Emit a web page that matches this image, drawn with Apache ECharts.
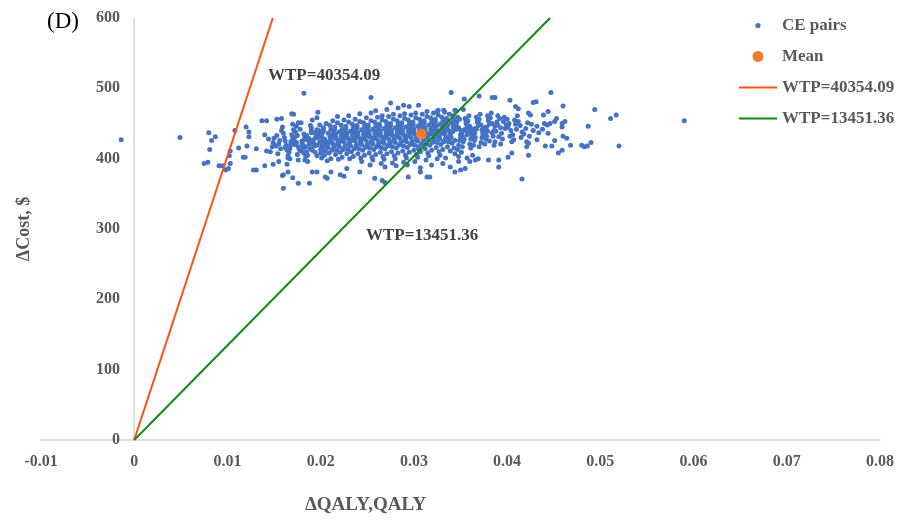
<!DOCTYPE html>
<html>
<head>
<meta charset="utf-8">
<script src="https://cdn.jsdelivr.net/npm/echarts@6/dist/echarts.min.js"></script>
<style>
html, body { margin: 0; padding: 0; background: #fff; }
#chart { width: 915px; height: 520px; }
</style>
</head>
<body>
<div id="chart"></div>
<script>
// incremental QALY (x) and cost (y)
var ceSparse = [
	[-0.0014, 427], [0.0049, 430], [0.0080, 437], [0.0083, 426], [0.0087, 431], [0.0081, 413],
	[0.0075, 393], [0.0079, 395], [0.0091, 390], [0.0095, 390], [0.0098, 384], [0.0101, 386],
	[0.0103, 393], [0.0103, 411], [0.0102, 404], [0.0108, 440], [0.0112, 415], [0.0120, 445],
	[0.0123, 438], [0.0123, 431], [0.0121, 418], [0.0117, 402], [0.0119, 402], [0.0128, 384],
	[0.0131, 384], [0.0137, 454], [0.0142, 454], [0.0140, 390], [0.0149, 392], [0.0158, 457],
	[0.0160, 358], [0.0169, 464], [0.0171, 463], [0.0160, 377], [0.0165, 381], [0.0176, 365],
	[0.0176, 451], [0.0182, 493], [0.0131, 414], [0.0153, 456], [0.0197, 466], [0.0159, 376],
	[0.0170, 373], [0.0188, 365], [0.0191, 381], [0.0196, 381], [0.0205, 374], [0.0207, 372],
	[0.0211, 381], [0.0221, 377], [0.0183, 398], [0.0167, 400], [0.0254, 487], [0.0340, 494],
	[0.0269, 366], [0.0317, 374], [0.0294, 374], [0.0258, 372], [0.0225, 375], [0.0242, 381],
	[0.0307, 381], [0.0339, 388], [0.0348, 396], [0.0228, 386], [0.0275, 479], [0.0289, 476],
	[0.0305, 476], [0.0325, 467], [0.0332, 469], [0.0344, 469], [0.0447, 494], [0.0354, 485],
	[0.0370, 489], [0.0384, 487], [0.0387, 487], [0.0403, 483], [0.0409, 474], [0.0412, 471],
	[0.0428, 480], [0.0431, 481], [0.0423, 465], [0.0425, 462], [0.0439, 462], [0.0444, 467],
	[0.0460, 475], [0.0453, 457], [0.0451, 453], [0.0459, 450], [0.0459, 445], [0.0443, 448],
	[0.0446, 450], [0.0462, 453], [0.0460, 432], [0.0464, 429], [0.0468, 419], [0.0451, 426],
	[0.0441, 418], [0.0448, 418], [0.0459, 412], [0.0455, 408], [0.0432, 427], [0.0423, 422],
	[0.0421, 417], [0.0416, 371], [0.0391, 388], [0.0391, 398], [0.0380, 398], [0.0401, 402],
	[0.0405, 408], [0.0423, 405], [0.0366, 398], [0.0369, 400], [0.0360, 396], [0.0357, 401],
	[0.0355, 386], [0.0350, 384], [0.0344, 381], [0.0494, 470], [0.0511, 457], [0.0517, 462],
	[0.0590, 454], [0.0487, 446], [0.0480, 419], [0.0483, 417], [0.0486, 418], [0.0490, 423],
	[0.0520, 418], [0.0314, 374], [0.0266, 369]
];

// dense middle of the cloud: [x, [y values at that x]]
var ceCore = [
	[0.0142, [411, 428, 434]],
	[0.0148, [417, 429, 410, 423]],
	[0.0155, [421, 414, 433, 426, 407, 440, 418, 396]],
	[0.0162, [425, 412, 436, 419, 430, 404, 445, 416, 392]],
	[0.0168, [420, 428, 409, 434, 415, 441, 401, 424, 449, 412]],
	[0.0174, [423, 417, 430, 406, 438, 413, 426, 446, 398, 420, 433]],
	[0.0181, [419, 427, 411, 435, 422, 403, 442, 415, 430, 451, 408, 425]],
	[0.0187, [426, 414, 433, 420, 405, 440, 417, 429, 447, 410, 423, 396, 437]],
	[0.0193, [421, 430, 412, 437, 425, 404, 444, 418, 432, 455, 409, 427, 441]],
	[0.0199, [424, 416, 433, 408, 440, 427, 419, 448, 401, 430, 413, 436, 422, 458]],
	[0.0204, [428, 418, 437, 411, 444, 423, 432, 405, 450, 415, 426, 440, 397, 421]],
	[0.0210, [425, 433, 416, 441, 408, 429, 420, 447, 412, 436, 400, 423, 454, 418, 431]],
	[0.0216, [430, 420, 438, 412, 445, 425, 433, 406, 451, 417, 428, 442, 399, 422, 435, 460]],
	[0.0222, [426, 435, 417, 442, 409, 430, 422, 448, 413, 438, 402, 425, 455, 419, 432]],
	[0.0228, [431, 421, 439, 413, 446, 427, 434, 407, 452, 418, 429, 443, 400, 424, 436, 461]],
	[0.0234, [427, 436, 418, 443, 410, 431, 423, 449, 414, 439, 403, 426, 456, 420, 433, 445]],
	[0.0240, [432, 422, 440, 414, 447, 428, 435, 407, 453, 419, 430, 444, 401, 425, 437, 464, 416]],
	[0.0246, [429, 438, 420, 445, 412, 433, 425, 451, 416, 441, 405, 428, 458, 422, 435, 447, 396]],
	[0.0252, [433, 423, 441, 415, 448, 429, 436, 408, 454, 420, 431, 445, 402, 426, 438, 465, 417, 391]],
	[0.0258, [430, 439, 421, 446, 413, 434, 426, 452, 417, 442, 406, 429, 459, 423, 436, 448, 398, 468]],
	[0.0264, [434, 424, 442, 416, 449, 430, 437, 409, 455, 421, 432, 446, 403, 427, 439, 461, 418, 393]],
	[0.0270, [431, 440, 422, 447, 414, 435, 427, 453, 418, 443, 407, 430, 460, 424, 437, 449, 399, 470, 388]],
	[0.0276, [435, 425, 443, 417, 450, 431, 438, 410, 456, 422, 433, 447, 404, 428, 440, 463, 419, 394]],
	[0.0282, [432, 441, 423, 448, 415, 436, 428, 454, 419, 444, 408, 431, 461, 425, 438, 450, 400, 472, 390]],
	[0.0288, [436, 426, 444, 418, 451, 432, 439, 411, 457, 423, 434, 448, 405, 429, 441, 464, 420, 395]],
	[0.0294, [433, 442, 424, 449, 416, 437, 429, 455, 420, 445, 409, 432, 462, 426, 439, 451, 401, 474, 391]],
	[0.0300, [437, 427, 445, 419, 452, 433, 440, 412, 458, 424, 435, 449, 406, 430, 442, 465, 421, 396]],
	[0.0306, [434, 443, 425, 450, 417, 438, 430, 456, 421, 446, 410, 433, 463, 427, 440, 452, 402, 387, 414]],
	[0.0312, [439, 429, 447, 421, 454, 435, 442, 414, 460, 426, 437, 451, 408, 432, 444, 467, 423, 398]],
	[0.0318, [436, 445, 427, 452, 419, 440, 432, 458, 423, 448, 412, 435, 465, 429, 442, 454, 404, 391]],
	[0.0324, [441, 431, 449, 423, 456, 437, 444, 416, 462, 428, 439, 453, 410, 434, 446, 469, 425, 400]],
	[0.0330, [437, 446, 428, 453, 420, 441, 433, 459, 424, 449, 413, 436, 466, 430, 443, 455, 405, 393]],
	[0.0336, [442, 432, 450, 424, 457, 438, 445, 417, 463, 429, 440, 454, 411, 435, 447, 426, 401]],
	[0.0342, [439, 448, 430, 455, 422, 443, 435, 461, 426, 451, 415, 438, 468, 432, 445, 407]],
	[0.0348, [444, 434, 452, 426, 459, 440, 447, 419, 431, 442, 456, 413, 437, 449, 403]],
	[0.0354, [441, 450, 432, 457, 424, 445, 437, 428, 453, 417, 440, 470, 434, 409]],
	[0.0360, [446, 436, 454, 428, 461, 442, 449, 421, 433, 444, 415, 439, 405]],
	[0.0366, [443, 452, 434, 459, 426, 447, 439, 430, 455, 419, 442, 436]],
	[0.0372, [448, 438, 456, 430, 463, 444, 451, 423, 435, 417, 441]],
	[0.0378, [445, 454, 436, 461, 428, 449, 441, 432, 457, 421, 439]],
	[0.0384, [450, 440, 458, 432, 465, 446, 425, 437, 419]],
	[0.0390, [448, 457, 439, 431, 452, 444, 424, 461]],
	[0.0396, [453, 443, 436, 459, 428, 448, 421]],
	[0.0402, [450, 440, 456, 432, 445, 424]],
	[0.0408, [455, 442, 434, 449, 427, 461]],
	[0.0414, [447, 438, 453, 430]],
	[0.0420, [443, 451, 435, 424]],
	[0.0426, [449, 440, 432]],
	[0.0432, [446, 437]],
	[0.0438, [442, 450]],
	[0.0444, [436]]
];

var meanPoint = [0.0308, 435];
var wtpHigh = 40354.09;
var wtpLow = 13451.36;
var yMax = 600;

var cePairs = ceSparse.slice();
ceCore.forEach(function (col) {
	// small x offsets so a column does not look like a straight stack
	var offs = [0, 0.0002, -0.0002, 0.0001, -0.0001, 0.0003, -0.0003];
	col[1].forEach(function (y, i) {
		cePairs.push([+(col[0] + offs[i % offs.length]).toFixed(4), y]);
	});
});

var serif = '"Liberation Serif", "Times New Roman", serif';
var grey = '#595959';

function legendDot(r) {
	// invisible corners keep the dot small inside the legend box
	return 'path://M0,0 M38,14 M' + (19 - r) + ',7 a' + r + ',' + r + ' 0 1,0 ' + 2 * r + ',0 a' + r + ',' + r + ' 0 1,0 ' + (-2 * r) + ',0z';
}
var legendLine = 'path://M0,0 M38,14 M0,6 L38,6 L38,8 L0,8 Z';

var chart = echarts.init(document.getElementById('chart'));
chart.setOption({
	animation: false,
	backgroundColor: '#fff',
	textStyle: { fontFamily: serif },
	grid: { left: 41, right: 35, top: 18, bottom: 80, containLabel: false, outerBoundsMode: 'none' },
	legend: {
		orient: 'vertical',
		left: 739,
		top: 17,
		padding: 0,
		itemWidth: 38,
		itemHeight: 14,
		itemGap: 14,
		textStyle: { fontFamily: serif, fontSize: 17, fontWeight: 'bold', color: grey },
		data: [
			{ name: 'CE pairs', icon: legendDot(2.6) },
			{ name: 'Mean', icon: legendDot(5.5) },
			{ name: 'WTP=40354.09', icon: legendLine },
			{ name: 'WTP=13451.36', icon: legendLine }
		]
	},
	title: {
		text: '(D)',
		left: 47,
		top: 10,
		padding: 0,
		textStyle: { fontFamily: serif, fontSize: 23, fontWeight: 'normal', color: '#000' }
	},
	xAxis: {
		type: 'value',
		min: -0.01,
		max: 0.08,
		interval: 0.01,
		name: 'ΔQALY,QALY',
		nameLocation: 'middle',
		nameGap: 56,
		nameTextStyle: { fontFamily: serif, fontSize: 19, fontWeight: 'bold', color: grey, padding: [0, 190, 0, 0] },
		axisLine: { onZero: true, lineStyle: { color: '#d4d4d4', width: 1.5 } },
		axisTick: { show: false },
		splitLine: { show: false },
		axisLabel: {
			margin: 14,
			fontFamily: serif, fontSize: 16, fontWeight: 'bold', color: grey,
			formatter: function (v) { return String(Math.round(v * 100) / 100); }
		}
	},
	yAxis: {
		type: 'value',
		min: 0,
		max: yMax,
		interval: 100,
		name: 'ΔCost, $',
		nameLocation: 'middle',
		nameGap: 8,
		nameRotate: 90,
		nameTextStyle: { fontFamily: serif, fontSize: 18, fontWeight: 'bold', color: grey, padding: [0, 0, 0, 0] },
		axisLine: { show: true, onZero: true, lineStyle: { color: '#d4d4d4', width: 1.5 } },
		axisTick: { show: false },
		splitLine: { show: false },
		// labels stay at the grid edge, so pull them over to the zero line
		axisLabel: { margin: -79, fontFamily: serif, fontSize: 16, fontWeight: 'bold', color: grey }
	},
	graphic: [
		{ type: 'text', left: 268, top: 67, style: { text: 'WTP=40354.09', fontFamily: serif, fontSize: 17, fontWeight: 'bold', fill: '#404040' } },
		{ type: 'text', left: 366, top: 227, style: { text: 'WTP=13451.36', fontFamily: serif, fontSize: 17, fontWeight: 'bold', fill: '#404040' } }
	],
	series: [
		{
			name: 'CE pairs',
			type: 'scatter',
			symbolSize: 5,
			itemStyle: { color: '#4472C4', opacity: 1 },
			z: 2,
			data: cePairs
		},
		{
			name: 'WTP=40354.09',
			type: 'line',
			symbol: 'none',
			lineStyle: { color: '#FF4F14', width: 2 },
			itemStyle: { color: '#FF4F14' },
			z: 3,
			data: [[0, 0], [yMax / wtpHigh, yMax]]
		},
		{
			name: 'WTP=13451.36',
			type: 'line',
			symbol: 'none',
			lineStyle: { color: '#138A13', width: 2 },
			itemStyle: { color: '#138A13' },
			z: 3,
			data: [[0, 0], [yMax / wtpLow, yMax]]
		},
		{
			name: 'Mean',
			type: 'scatter',
			symbolSize: 11,
			itemStyle: { color: '#ED7D31', opacity: 1 },
			z: 4,
			data: [meanPoint]
		}
	]
});
</script>
</body>
</html>
